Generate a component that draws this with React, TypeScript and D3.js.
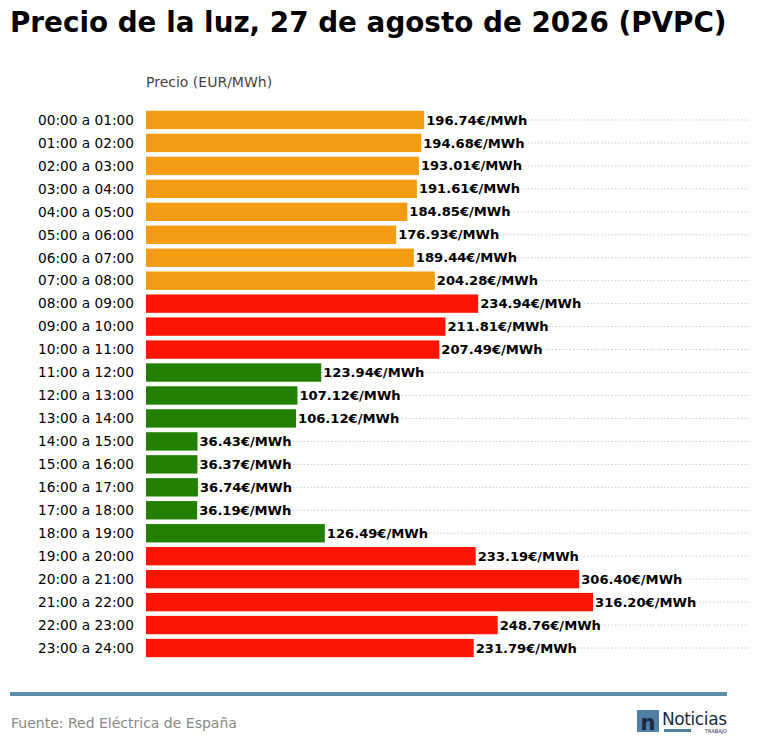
import React from "react";
import * as d3 from "d3";

const hours = ["00:00 a 01:00","01:00 a 02:00","02:00 a 03:00","03:00 a 04:00","04:00 a 05:00","05:00 a 06:00","06:00 a 07:00","07:00 a 08:00","08:00 a 09:00","09:00 a 10:00","10:00 a 11:00","11:00 a 12:00","12:00 a 13:00","13:00 a 14:00","14:00 a 15:00","15:00 a 16:00","16:00 a 17:00","17:00 a 18:00","18:00 a 19:00","19:00 a 20:00","20:00 a 21:00","21:00 a 22:00","22:00 a 23:00","23:00 a 24:00"];
const prices = [196.74,194.68,193.01,191.61,184.85,176.93,189.44,204.28,234.94,211.81,207.49,123.94,107.12,106.12,36.43,36.37,36.74,36.19,126.49,233.19,306.40,316.20,248.76,231.79];
const levels = ["m","m","m","m","m","m","m","m","h","h","h","l","l","l","l","l","l","l","l","h","h","h","h","h"];
const colors: Record<string,string> = { l: "#218000", m: "#f39c12", h: "#fb1505" };

export default function App() {
  const W = 759, H = 755;
  const x = d3.scaleLinear().domain([0, 426.5]).range([146, 749]);
  const y = d3.scaleBand().domain(hours).range([108.5, 659.5]).paddingInner(0.2).paddingOuter(0.1);
  const font = "DejaVu Sans, sans-serif";
  return (
    <svg width={W} height={H} style={{ position: "absolute", left: 0, top: 0, background: "#fff" }} fontFamily={font}>
      <text x={10} y={32} fontSize={27.8} fontWeight="bold">Precio de la luz, 27 de agosto de 2026 (PVPC)</text>
      <text x={146} y={87} fontSize={14} fill="#444">Precio (EUR/MWh)</text>
      {hours.map((h, i) => {
        const yc = y(h)! + y.bandwidth() / 2;
        return (
          <g key={h}>
            <line x1={146} x2={749} y1={yc} y2={yc} stroke="#bbb" strokeDasharray="1.5,2" strokeWidth={0.8} />
            <rect x={x(0)} y={y(h)} width={x(prices[i]) - x(0)} height={y.bandwidth()} fill={colors[levels[i]]} />
            <text x={134} y={yc} dy="0.35em" textAnchor="end" fontSize={13.7}>{h}</text>
            <text x={x(prices[i]) + 2} y={yc} dy="0.35em" fontSize={13.1} fontWeight="bold">{prices[i].toFixed(2)}€/MWh</text>
          </g>
        );
      })}
      <line x1={10} x2={727} y1={694} y2={694} stroke="#5b8fa8" strokeWidth={4} />
      <text x={11} y={728} fontSize={14} fill="#888">Fuente: Red Eléctrica de España</text>
      <rect x={637} y={710} width={22} height={22} fill="#4f7fa3" />
      <text x={648} y={730} textAnchor="middle" fontSize={21} fill="#1b2a44" fontWeight="bold">n</text>
      <text x={662} y={725} fontSize={17} fill="#1b2a44" textLength={65}>Noticias</text>
      <rect x={664} y={729} width={27} height={3} fill="#4f7fa3" />
      <text x={727} y={733} textAnchor="end" fontSize={5} fill="#1b2a44">TRABAJO</text>
    </svg>
  );
}
